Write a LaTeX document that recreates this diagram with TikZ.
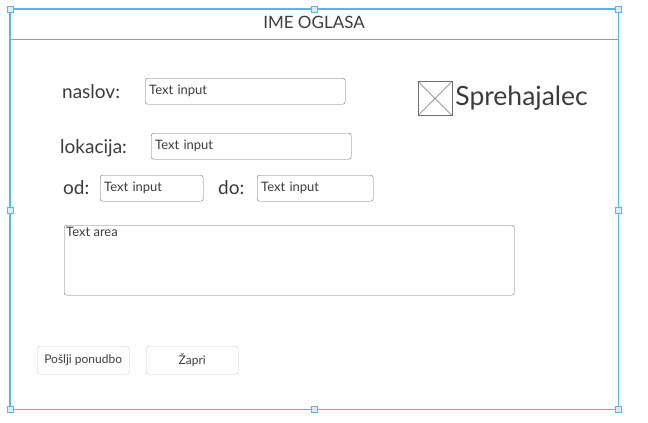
\documentclass[tikz,border=0pt]{standalone}
\usepackage{fontspec}
\setmainfont{Lato}
\usetikzlibrary{positioning}

\begin{document}
\begin{tikzpicture}[x=1pt,y=-1pt]

% ------------------------------------------------ wireframe colors
\definecolor{wf_line}{RGB}{110,110,110}  %#6E6E6E
\definecolor{wf_text}{RGB}{60,60,60}     %#3C3C3C
\definecolor{wf_sel}{RGB}{86,185,228}    %#56B9E4
\definecolor{wf_btn}{RGB}{200,200,200}   %#C8C8C8

\tikzset{
  lbl/.style={text=wf_text, font=\fontsize{19}{22}\selectfont, inner sep=0pt},
  field/.style={draw=wf_line, rounded corners=2.5pt, anchor=north west, minimum height=26pt,
                inner xsep=4pt, inner ysep=0pt, align=left, text=wf_text, font=\fontsize{13}{15}\selectfont},
  btn/.style={draw=wf_btn, rounded corners=2.5pt, anchor=north west, minimum width=92pt, minimum height=28pt,
              inner sep=0pt, text=wf_text, font=\fontsize{12}{14}\selectfont},
  handle/.style={draw=wf_sel, fill=wf_sel!25, thin}
}

\useasboundingbox (0,0) rectangle (648,423);

% window frame
\node[draw=wf_line, thick, minimum width=608pt, minimum height=400pt, anchor=north west, inner sep=0pt] (frame) at (10,9) {};
\draw[wf_line!70] (10,39) -- (618,39);
\node[text=wf_text, font=\fontsize{17}{20}\selectfont] (title) at (314,22) {IME OGLASA};

% labels and inputs
\node[lbl, anchor=west] (naslov) at (62,92) {naslov:};
\node[field, text width=192pt] (inNaslov) at (145,78) {Text input};

\node[lbl, anchor=west] (lokacija) at (60,148) {lokacija:};
\node[field, text width=192pt] (inLokacija) at (151,133) {Text input};

\node[lbl, anchor=west] (od) at (63,188) {od:};
\node[field, text width=95pt] (inOd) at (100,175) {Text input};

\node[lbl, anchor=west] (do) at (218,188) {do:};
\node[field, text width=108pt] (inDo) at (257,175) {Text input};

% checkbox
\node[draw=wf_line, minimum size=34pt, inner sep=0pt] (chk) at (435,98.5) {};
\draw[wf_line] (chk.north west) -- (chk.south east);
\draw[wf_line] (chk.north east) -- (chk.south west);
\node[lbl, font=\fontsize{26.5}{30}\selectfont, right=3pt of chk] (sprehajalec) {Sprehajalec};

% text area
\node[draw=wf_line, rounded corners=2.5pt, anchor=north west, minimum width=450pt, minimum height=70pt, inner sep=0pt] (area) at (64,225) {};
\node[anchor=north west, text=wf_text, font=\fontsize{13}{15}\selectfont, inner sep=2pt] (areaText) at (area.north west) {Text area};

% buttons
\node[btn] (poslji) at (37,346) {Pošlji ponudbo};
\node[btn] (zapri) at (146,346) {Žapri};

% selection outline
\draw[wf_sel, line width=1.3pt] (frame.north west) rectangle (frame.south east);
\foreach \hx/\hy in {10/9, 314/9, 618/9, 10/210, 618/210, 10/409, 314/409, 618/409}
  \draw[handle] (\hx-3,\hy-3) rectangle (\hx+3,\hy+3);

\end{tikzpicture}
\end{document}
